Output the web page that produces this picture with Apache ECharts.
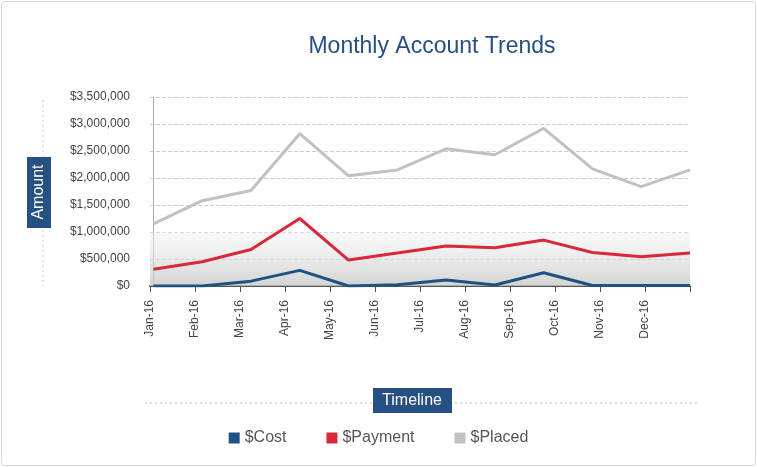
<!DOCTYPE html>
<html><head><meta charset="utf-8">
<script src="https://cdn.jsdelivr.net/npm/echarts@6/dist/echarts.min.js"></script>
<style>
html,body{margin:0;padding:0;background:#fff;}
#wrap{position:absolute;left:1px;top:1px;width:753px;height:463px;border:1px solid #d6d6d6;border-radius:4px;}
#chart{position:absolute;left:0;top:0;width:757px;height:467px;}
</style></head>
<body><div id="wrap"></div><div id="chart"></div>
<script>
// labels on the axis ticks, last tick unlabelled
const months = ["Jan-16","Feb-16","Mar-16","Apr-16","May-16","Jun-16","Jul-16","Aug-16","Sep-16","Oct-16","Nov-16","Dec-16",""];
const cost = [0, 0, 90000, 290000, 0, 25000, 110000, 20000, 245000, 10000, 10000, 10000];
const payment = [310000, 450000, 675000, 1250000, 480000, 610000, 740000, 710000, 850000, 620000, 540000, 610000];
const placed = [1150000, 1580000, 1770000, 2820000, 2040000, 2150000, 2540000, 2430000, 2920000, 2170000, 1840000, 2150000];

const FONT = "'Liberation Sans Narrow', 'Liberation Sans', sans-serif";
const BLUE = "#265082";
const pts = (arr) => arr.map((v, i) => [i, v]);
const money = (v) => "$" + v.toLocaleString("en-US");

const chart = echarts.init(document.getElementById("chart"));
const line = (name, data, color) => ({
  name, type: "line", xAxisIndex: 1, data: pts(data), symbol: "none",
  lineStyle: { color, width: 3 }, itemStyle: { color }
});
chart.setOption({
  animation: false,
  textStyle: { fontFamily: FONT },
  title: { text: "Monthly Account Trends", left: 427, top: 30, textAlign: "center",
    textStyle: { color: BLUE, fontSize: 23, fontWeight: "normal", fontFamily: FONT } },
  grid: { left: 150, right: 67, top: 97, bottom: 181 },
  legend: { bottom: 16, left: "center", itemWidth: 11, itemHeight: 11, itemGap: 40,
    icon: "rect", textStyle: { fontSize: 16, color: "#555", fontFamily: FONT },
    data: ["$Cost", "$Payment", "$Placed"] },
  xAxis: [
    { type: "category", data: months, boundaryGap: false,
      axisLine: { lineStyle: { color: "#555", width: 2 } },
      axisTick: { show: true, length: 6, lineStyle: { color: "#555" } },
      axisLabel: { rotate: 90, color: "#444", fontSize: 12, margin: 14, interval: 0 },
      splitLine: { show: false } },
    { type: "value", min: -0.07, max: 11, show: false }
  ],
  yAxis: { type: "value", min: 0, max: 3500000, interval: 500000,
    axisLine: { show: true, lineStyle: { color: "#aaa" } },
    axisTick: { show: false },
    axisLabel: { formatter: money, color: "#444", fontSize: 12, margin: 20 },
    splitLine: { lineStyle: { type: "dashed", color: "#ccc" } } },
  series: [
    Object.assign(line("$Cost", cost, "#1f5282"), { z: 4 }),
    Object.assign(line("$Payment", payment, "#d8283a"), { z: 3 }),
    Object.assign(line("$Placed", placed, "#c1c1c1"), { z: 2,
      markArea: { silent: true, itemStyle: { color: new echarts.graphic.LinearGradient(0, 0, 0, 1, [
        { offset: 0, color: "rgba(240,240,240,0.4)" }, { offset: 1, color: "rgba(200,200,200,0.8)" }]) },
        data: [[{ coord: [-0.07, 1000000] }, { coord: [11, 0] }]] } })
  ],
  graphic: [
    { type: "line", shape: { x1: 43, y1: 100, x2: 43, y2: 286 }, style: { stroke: "#ccc", lineDash: [2, 3] } },
    { type: "line", shape: { x1: 145, y1: 403, x2: 700, y2: 403 }, style: { stroke: "#bbb", lineDash: [2, 3] } },
    { type: "rect", shape: { x: 27, y: 157, width: 24, height: 71 }, style: { fill: BLUE } },
    { type: "text", x: 39, y: 192, rotation: Math.PI / 2, style: { text: "Amount", fill: "#fff",
      font: "16px " + FONT, align: "center", verticalAlign: "middle" } },
    { type: "rect", shape: { x: 373, y: 388, width: 79, height: 25 }, style: { fill: BLUE } },
    { type: "text", x: 412, y: 401, style: { text: "Timeline", fill: "#fff",
      font: "16px " + FONT, align: "center", verticalAlign: "middle" } }
  ]
});
</script></body></html>
